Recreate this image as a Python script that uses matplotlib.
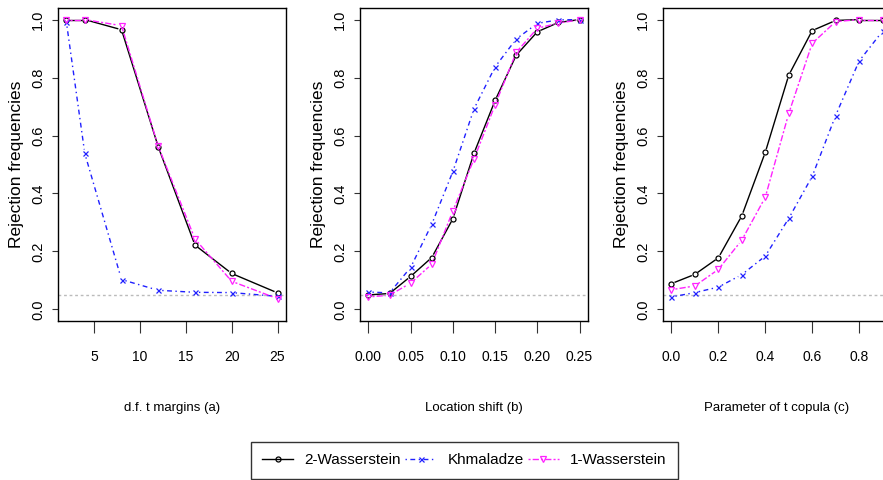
import matplotlib
matplotlib.use("Agg")
import matplotlib.pyplot as plt
from matplotlib import font_manager
from matplotlib.lines import Line2D
import numpy as np

# ---------------- data ----------------
x_a = [2, 4, 8, 12, 16, 20, 25]
w2_a = [1.0, 1.0, 0.965, 0.561, 0.222, 0.124, 0.057]
kh_a = [0.99, 0.538, 0.103, 0.066, 0.059, 0.058, 0.045]
w1_a = [1.0, 1.0, 0.979, 0.563, 0.243, 0.097, 0.037]

x_b = [0.0, 0.025, 0.05, 0.075, 0.10, 0.125, 0.15, 0.175, 0.20, 0.225, 0.25]
w2_b = [0.050, 0.055, 0.114, 0.179, 0.313, 0.539, 0.721, 0.877, 0.958, 0.990, 1.0]
kh_b = [0.060, 0.057, 0.145, 0.294, 0.476, 0.692, 0.837, 0.933, 0.987, 0.999, 1.0]
w1_b = [0.043, 0.049, 0.091, 0.156, 0.340, 0.519, 0.706, 0.887, 0.970, 0.988, 0.999]

x_c = [0.0, 0.1, 0.2, 0.3, 0.4, 0.5, 0.6, 0.7, 0.8, 0.9]
w2_c = [0.089, 0.121, 0.178, 0.323, 0.542, 0.808, 0.962, 0.997, 1.0, 1.0]
kh_c = [0.043, 0.058, 0.077, 0.120, 0.184, 0.314, 0.459, 0.669, 0.857, 0.960]
w1_c = [0.068, 0.081, 0.138, 0.239, 0.387, 0.676, 0.918, 0.993, 1.0, 1.0]

xticks_a = [5, 10, 15, 20, 25]
xticks_b = [0.00, 0.05, 0.10, 0.15, 0.20, 0.25]
xticks_c = [0.0, 0.2, 0.4, 0.6, 0.8]
yticks = [0.0, 0.2, 0.4, 0.6, 0.8, 1.0]
xlabels = ["d.f. t margins (a)", "Location shift (b)", "Parameter of t copula (c)"]
ylabel = "Rejection frequencies"
series_names = ["2-Wasserstein", "Khmaladze", "1-Wasserstein"]
level = 0.05

# ---------------- fonts ----------------
available = {f.name for f in font_manager.fontManager.ttflist}
narrow = [f for f in ["Liberation Sans Narrow", "Liberation Sans", "DejaVu Sans"] if f in available]
main = [f for f in ["Liberation Sans", "DejaVu Sans"] if f in available]
plt.rcParams['font.family'] = main

W, H = 883, 480
fig = plt.figure(figsize=(W / 100, H / 100), dpi=100)

lefts = [58, 360, 663]
ax_w = 228
top, bottom = 8, 321

panels = [
    (x_a, w2_a, kh_a, w1_a, xticks_a, (1.08, 25.92), "{:.0f}"),
    (x_b, w2_b, kh_b, w1_b, xticks_b, (-0.01, 0.26), "{:.2f}"),
    (x_c, w2_c, kh_c, w1_c, xticks_c, (-0.036, 0.936), "{:.1f}"),
]

line_styles = [
    dict(color="black", linestyle="-", lw=1.0),
    dict(color="#2020ff", linestyle=(0, (1, 2.5, 3.5, 2.5)), lw=1.0),
    dict(color="#ff22ff", linestyle=(0, (1.5, 1.5, 4.5, 1.5)), lw=1.0),
]
marker_styles = [
    dict(marker="o", ms=3.6, mfc="none", mew=0.9),
    dict(marker="x", ms=3.6, mew=0.9),
    dict(marker="v", ms=4.6, mfc="none", mew=0.9),
]
GAP = 4.0  # px gap between line and point (R type = "b")


def gapped_segments(ax, xs, ys):
    pts = ax.transData.transform(np.column_stack([xs, ys]))
    inv = ax.transData.inverted()
    segs = []
    for p, q in zip(pts[:-1], pts[1:]):
        d = q - p
        L = np.hypot(*d)
        if L <= 2 * GAP:
            continue
        u = d / L
        a = inv.transform(p + u * GAP)
        b = inv.transform(q - u * GAP)
        segs.append((a, b))
    return segs


for i, (xs, w2, kh, w1, xt, xl, fmt) in enumerate(panels):
    ax = fig.add_axes([lefts[i] / W, (H - bottom) / H, ax_w / W, (bottom - top) / H])
    ax.set_xlim(*xl)
    ax.set_ylim(-0.04, 1.04)
    ax.axhline(level, color="#bbbbbb", linestyle=(0, (2, 2)), lw=1.0, zorder=1)
    for ys, ls, ms in zip([w2, kh, w1], line_styles, marker_styles):
        for a, b in gapped_segments(ax, xs, ys):
            ax.plot([a[0], b[0]], [a[1], b[1]], zorder=3, **ls)
        ax.plot(xs, ys, linestyle="none", color=ls["color"], zorder=4, **ms)
    ax.set_xticks(xt)
    ax.set_xticklabels([fmt.format(v) for v in xt], fontfamily=narrow, fontsize=10)
    ax.set_yticks(yticks)
    ax.set_yticklabels(["{:.1f}".format(v) for v in yticks], fontsize=10.5,
                       rotation=90, va="center")
    ax.tick_params(axis="x", length=8.6, width=0.8, pad=12, color="#333333")
    ax.tick_params(axis="y", length=4.3, width=0.8, pad=5, color="#333333")
    for sp in ax.spines.values():
        sp.set_linewidth(1.0)
    ax.set_xlabel(xlabels[i], fontfamily=narrow, fontsize=9.5, labelpad=28)
    ax.set_ylabel(ylabel, fontsize=12.5, labelpad=5)

handles = [Line2D([], [], label=n, **ls, **ms)
           for n, ls, ms in zip(series_names, line_styles, marker_styles)]
leg = fig.legend(handles=handles, loc="upper center",
                 bbox_to_anchor=(464.5 / W, 1 - 442 / H), ncol=3, frameon=True,
                 fancybox=False, edgecolor="black", fontsize=11,
                 handlelength=2.0, handletextpad=0.75, columnspacing=0.3,
                 borderpad=0.75, borderaxespad=0)
leg.get_frame().set_linewidth(1.0)

fig.savefig("out.png", dpi=100)
